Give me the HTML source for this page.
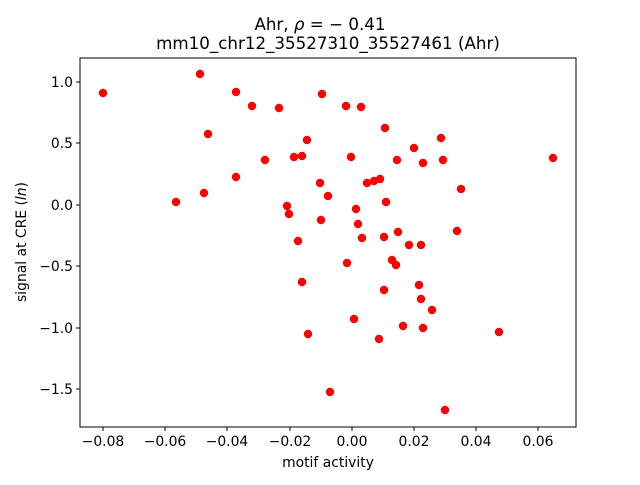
<!DOCTYPE html>
<html><head><meta charset="utf-8"><style>
body{margin:0;background:#fff;}
svg text{font-family:"DejaVu Sans","Liberation Sans",sans-serif;fill:#000;}
</style></head><body>
<svg width="640" height="480" xmlns="http://www.w3.org/2000/svg">
<rect width="640" height="480" fill="#fff"/>
<text x="320" y="30" font-size="16.7" text-anchor="middle">Ahr, <tspan font-style="italic">ρ</tspan> = − 0.41</text>
<text x="328" y="49" font-size="16.7" text-anchor="middle">mm10_chr12_35527310_35527461 (Ahr)</text>
<g fill="#ff0000">
<circle cx="103" cy="93" r="4.2"/><circle cx="200" cy="74" r="4.2"/><circle cx="236" cy="92" r="4.2"/><circle cx="252" cy="106" r="4.2"/><circle cx="279" cy="108" r="4.2"/><circle cx="322" cy="94" r="4.2"/><circle cx="346" cy="106" r="4.2"/><circle cx="361" cy="107" r="4.2"/><circle cx="385" cy="128" r="4.2"/><circle cx="441" cy="138" r="4.2"/><circle cx="208" cy="134" r="4.2"/><circle cx="307" cy="140" r="4.2"/><circle cx="265" cy="160" r="4.2"/><circle cx="294" cy="157" r="4.2"/><circle cx="302" cy="156" r="4.2"/><circle cx="351" cy="157" r="4.2"/><circle cx="320" cy="183" r="4.2"/><circle cx="367" cy="183" r="4.2"/><circle cx="374" cy="181" r="4.2"/><circle cx="380" cy="179" r="4.2"/><circle cx="397" cy="160" r="4.2"/><circle cx="414" cy="148" r="4.2"/><circle cx="423" cy="163" r="4.2"/><circle cx="443" cy="160" r="4.2"/><circle cx="461" cy="189" r="4.2"/><circle cx="553" cy="158" r="4.2"/><circle cx="176" cy="202" r="4.2"/><circle cx="204" cy="193" r="4.2"/><circle cx="236" cy="177" r="4.2"/><circle cx="328" cy="196" r="4.2"/><circle cx="287" cy="206" r="4.2"/><circle cx="289" cy="214" r="4.2"/><circle cx="321" cy="220" r="4.2"/><circle cx="356" cy="209" r="4.2"/><circle cx="358" cy="224" r="4.2"/><circle cx="386" cy="202" r="4.2"/><circle cx="362" cy="238" r="4.2"/><circle cx="384" cy="237" r="4.2"/><circle cx="398" cy="232" r="4.2"/><circle cx="409" cy="245" r="4.2"/><circle cx="421" cy="245" r="4.2"/><circle cx="457" cy="231" r="4.2"/><circle cx="298" cy="241" r="4.2"/><circle cx="347" cy="263" r="4.2"/><circle cx="392" cy="260" r="4.2"/><circle cx="396" cy="265" r="4.2"/><circle cx="419" cy="285" r="4.2"/><circle cx="302" cy="282" r="4.2"/><circle cx="384" cy="290" r="4.2"/><circle cx="421" cy="299" r="4.2"/><circle cx="432" cy="310" r="4.2"/><circle cx="403" cy="326" r="4.2"/><circle cx="308" cy="334" r="4.2"/><circle cx="354" cy="319" r="4.2"/><circle cx="379" cy="339" r="4.2"/><circle cx="423" cy="328" r="4.2"/><circle cx="330" cy="392" r="4.2"/><circle cx="445" cy="410" r="4.2"/><circle cx="499" cy="332" r="4.2"/>
</g>
<rect x="80" y="58" width="496" height="369" fill="none" stroke="#000" stroke-width="1"/>
<g stroke="#000" stroke-width="1">
<line x1="103" y1="427" x2="103" y2="431"/><line x1="165" y1="427" x2="165" y2="431"/><line x1="227" y1="427" x2="227" y2="431"/><line x1="290" y1="427" x2="290" y2="431"/><line x1="352" y1="427" x2="352" y2="431"/><line x1="414" y1="427" x2="414" y2="431"/><line x1="476" y1="427" x2="476" y2="431"/><line x1="538" y1="427" x2="538" y2="431"/>
<line x1="76" y1="82" x2="80" y2="82"/><line x1="76" y1="143" x2="80" y2="143"/><line x1="76" y1="205" x2="80" y2="205"/><line x1="76" y1="266" x2="80" y2="266"/><line x1="76" y1="328" x2="80" y2="328"/><line x1="76" y1="389" x2="80" y2="389"/>
</g>
<g font-size="13.9" text-anchor="middle">
<text x="103" y="446">−0.08</text><text x="165" y="446">−0.06</text><text x="227" y="446">−0.04</text><text x="290" y="446">−0.02</text><text x="352" y="446">0.00</text><text x="414" y="446">0.02</text><text x="476" y="446">0.04</text><text x="538" y="446">0.06</text>
<text x="328" y="467">motif activity</text>
</g>
<g font-size="13.9" text-anchor="end">
<text x="73" y="87">1.0</text><text x="73" y="148">0.5</text><text x="73" y="210">0.0</text><text x="73" y="271">−0.5</text><text x="73" y="333">−1.0</text><text x="73" y="394">−1.5</text>
</g>
<text transform="translate(26,242) rotate(-90)" font-size="13.9" text-anchor="middle">signal at CRE (<tspan font-style="italic">ln</tspan>)</text>
</svg>
</body></html>
